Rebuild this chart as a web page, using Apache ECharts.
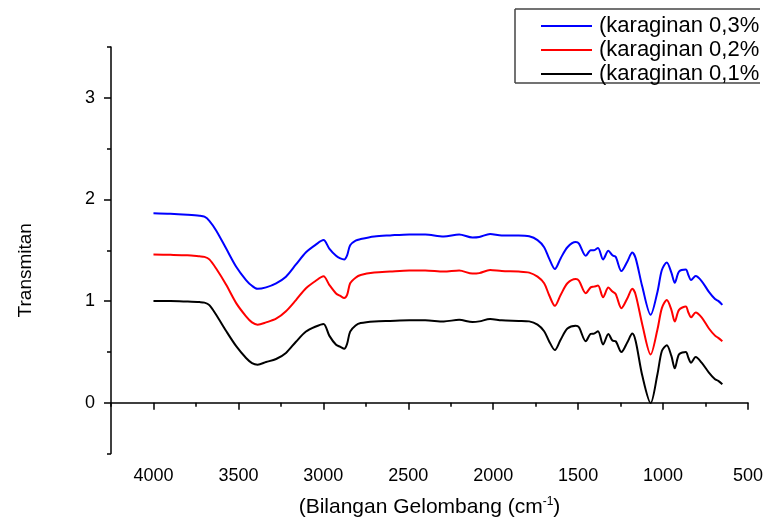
<!DOCTYPE html>
<html>
<head>
<meta charset="utf-8">
<script src="https://cdn.jsdelivr.net/npm/echarts@6/dist/echarts.min.js"></script>
<style>
  html, body { margin: 0; padding: 0; background: #fff; }
  #chart { width: 766px; height: 523px; }
</style>
</head>
<body>
<div id="chart"></div>
<script>
// wavenumber (cm-1), shared by all three spectra
var waveNumbers = [4000, 3900, 3800, 3729, 3700, 3671, 3631, 3572, 3513, 3455, 3420, 3387, 3337, 3278, 3220, 3161, 3102, 3044, 2999, 2965, 2925, 2900, 2877, 2860, 2842, 2810, 2780, 2700, 2607, 2494, 2400, 2291, 2200, 2122, 2082, 2018, 1950, 1850, 1788, 1739, 1700, 1671, 1637, 1603, 1563, 1514, 1495, 1455, 1426, 1406, 1383, 1353, 1322, 1298, 1279, 1245, 1210, 1181, 1161, 1122, 1073, 1033, 1007, 978, 951, 931, 906, 866, 851, 835, 808, 773, 730, 694, 675, 651];

var karaginan03 = [1.865, 1.86, 1.85, 1.84, 1.83, 1.79, 1.695, 1.517, 1.338, 1.207, 1.15, 1.12, 1.135, 1.175, 1.24, 1.36, 1.48, 1.556, 1.60, 1.517, 1.445, 1.42, 1.41, 1.45, 1.55, 1.595, 1.61, 1.635, 1.646, 1.656, 1.655, 1.635, 1.655, 1.625, 1.63, 1.66, 1.645, 1.645, 1.637, 1.60, 1.53, 1.42, 1.315, 1.42, 1.53, 1.58, 1.565, 1.445, 1.50, 1.50, 1.523, 1.41, 1.494, 1.45, 1.435, 1.295, 1.39, 1.477, 1.42, 1.14, 0.865, 1.09, 1.305, 1.38, 1.28, 1.18, 1.29, 1.31, 1.256, 1.207, 1.246, 1.197, 1.09, 1.02, 1.002, 0.963];

var karaginan02 = [1.458, 1.455, 1.45, 1.44, 1.435, 1.41, 1.32, 1.16, 0.98, 0.85, 0.79, 0.768, 0.79, 0.826, 0.90, 1.01, 1.126, 1.20, 1.243, 1.16, 1.075, 1.05, 1.03, 1.06, 1.175, 1.23, 1.256, 1.28, 1.29, 1.30, 1.30, 1.29, 1.30, 1.27, 1.275, 1.305, 1.295, 1.29, 1.28, 1.24, 1.175, 1.06, 0.953, 1.06, 1.175, 1.217, 1.20, 1.077, 1.135, 1.142, 1.152, 1.038, 1.133, 1.094, 1.07, 0.93, 1.028, 1.12, 1.06, 0.768, 0.475, 0.72, 0.93, 1.01, 0.914, 0.80, 0.914, 0.947, 0.888, 0.84, 0.888, 0.84, 0.73, 0.66, 0.638, 0.605];

var karaginan01 = [1.00, 1.00, 0.995, 0.99, 0.985, 0.96, 0.865, 0.705, 0.556, 0.44, 0.39, 0.374, 0.40, 0.43, 0.49, 0.60, 0.70, 0.75, 0.775, 0.66, 0.57, 0.55, 0.53, 0.58, 0.70, 0.76, 0.784, 0.80, 0.805, 0.81, 0.81, 0.80, 0.815, 0.794, 0.80, 0.823, 0.81, 0.805, 0.80, 0.768, 0.703, 0.605, 0.518, 0.62, 0.73, 0.758, 0.742, 0.605, 0.677, 0.68, 0.703, 0.573, 0.677, 0.611, 0.605, 0.498, 0.595, 0.68, 0.605, 0.264, -0.004, 0.28, 0.508, 0.566, 0.46, 0.338, 0.475, 0.50, 0.442, 0.394, 0.449, 0.394, 0.296, 0.23, 0.215, 0.182];

var seriesNames = ["(karaginan 0,3%", "(karaginan 0,2%", "(karaginan 0,1%"];
var seriesColors = ["#0000ff", "#ff0000", "#000000"];
var seriesValues = [karaginan03, karaginan02, karaginan01];

var xMajorTicks = [500, 1000, 1500, 2000, 2500, 3000, 3500, 4000];
var xMinorTicks = [750, 1250, 1750, 2250, 2750, 3250, 3750, 4250];
var yMajorTicks = [0, 1, 2, 3];
var yMinorTicks = [-0.5, 0.5, 1.5, 2.5, 3.5];

var FONT = "Liberation Sans";

function pairUp(xs, ys) {
	var out = [];
	for (var i = 0; i < xs.length; i++) out.push([xs[i], ys[i]]);
	return out;
}

function plainNum(v) {
	return String(v);
}

var chart = echarts.init(document.getElementById("chart"), null, { renderer: "canvas" });

var series = seriesNames.map(function(name, i) {
	return {
		name: name,
		type: "line",
		data: pairUp(waveNumbers, seriesValues[i]),
		smooth: 0.3,
		showSymbol: false,
		lineStyle: { color: seriesColors[i], width: 2 },
		itemStyle: { color: seriesColors[i] }
	};
});

var axisLineStyle = { show: true, lineStyle: { color: "#000", width: 1.5 } };
var frameStyle = { stroke: "#444", lineWidth: 1.5 };

var option = {
	animation: false,
	backgroundColor: "#fff",
	grid: { left: 111, right: 16, top: 47, bottom: 66 },
	// legend frame is open on the right: it runs off the picture in the original
	graphic: [
		{ type: "line", shape: { x1: 515, y1: 9, x2: 760, y2: 9 }, style: frameStyle },
		{ type: "line", shape: { x1: 515, y1: 9, x2: 515, y2: 83 }, style: frameStyle },
		{ type: "line", shape: { x1: 515, y1: 83, x2: 760, y2: 83 }, style: frameStyle }
	],
	legend: {
		orient: "vertical",
		left: 515,
		top: 9,
		padding: [6, 0, 0, 26],
		itemGap: 2,
		itemWidth: 51,
		itemHeight: 2,
		icon: "rect",
		borderWidth: 0,
		data: seriesNames,
		textStyle: { fontFamily: FONT, fontSize: 22, color: "#000", lineHeight: 20, padding: [0, 0, 0, 2] }
	},
	xAxis: [
		{
			type: "value",
			inverse: true,
			min: 500,
			max: 4250,
			name: "(Bilangan Gelombang (cm{sup|-1}{n|)}",
			nameLocation: "middle",
			nameGap: 42,
			nameTextStyle: {
				fontFamily: FONT, fontSize: 21, color: "#000",
				rich: {
					sup: { fontFamily: FONT, fontSize: 12, color: "#000", padding: [0, 0, 12, 0] },
					n: { fontFamily: FONT, fontSize: 21, color: "#000" }
				}
			},
			axisLine: axisLineStyle,
			axisTick: { show: true, customValues: xMajorTicks, length: 7, lineStyle: { color: "#000", width: 1.5 } },
			axisLabel: { customValues: xMajorTicks, formatter: plainNum, fontFamily: FONT, fontSize: 18, color: "#000", margin: 14 },
			splitLine: { show: false }
		},
		{
			type: "value",
			inverse: true,
			min: 500,
			max: 4250,
			position: "bottom",
			axisLine: { show: false },
			axisTick: { show: true, customValues: xMinorTicks, length: 4, lineStyle: { color: "#000", width: 1.5 } },
			axisLabel: { show: false },
			splitLine: { show: false }
		}
	],
	yAxis: [
		{
			type: "value",
			min: -0.5,
			max: 3.5,
			name: "Transmitan",
			nameLocation: "middle",
			nameRotate: 90,
			nameGap: 76,
			nameTextStyle: { fontFamily: FONT, fontSize: 19, color: "#000", padding: [0, 40, 0, 0] },
			axisLine: axisLineStyle,
			axisTick: { show: true, customValues: yMajorTicks, length: 7, lineStyle: { color: "#000", width: 1.5 } },
			axisLabel: { customValues: yMajorTicks, formatter: plainNum, fontFamily: FONT, fontSize: 18, color: "#000", margin: 16 },
			splitLine: { show: false }
		},
		{
			type: "value",
			min: -0.5,
			max: 3.5,
			position: "left",
			axisLine: { show: false },
			axisTick: { show: true, customValues: yMinorTicks, length: 4, lineStyle: { color: "#000", width: 1.5 } },
			axisLabel: { show: false },
			splitLine: { show: false }
		}
	],
	series: series
};

chart.setOption(option);
</script>
</body>
</html>
